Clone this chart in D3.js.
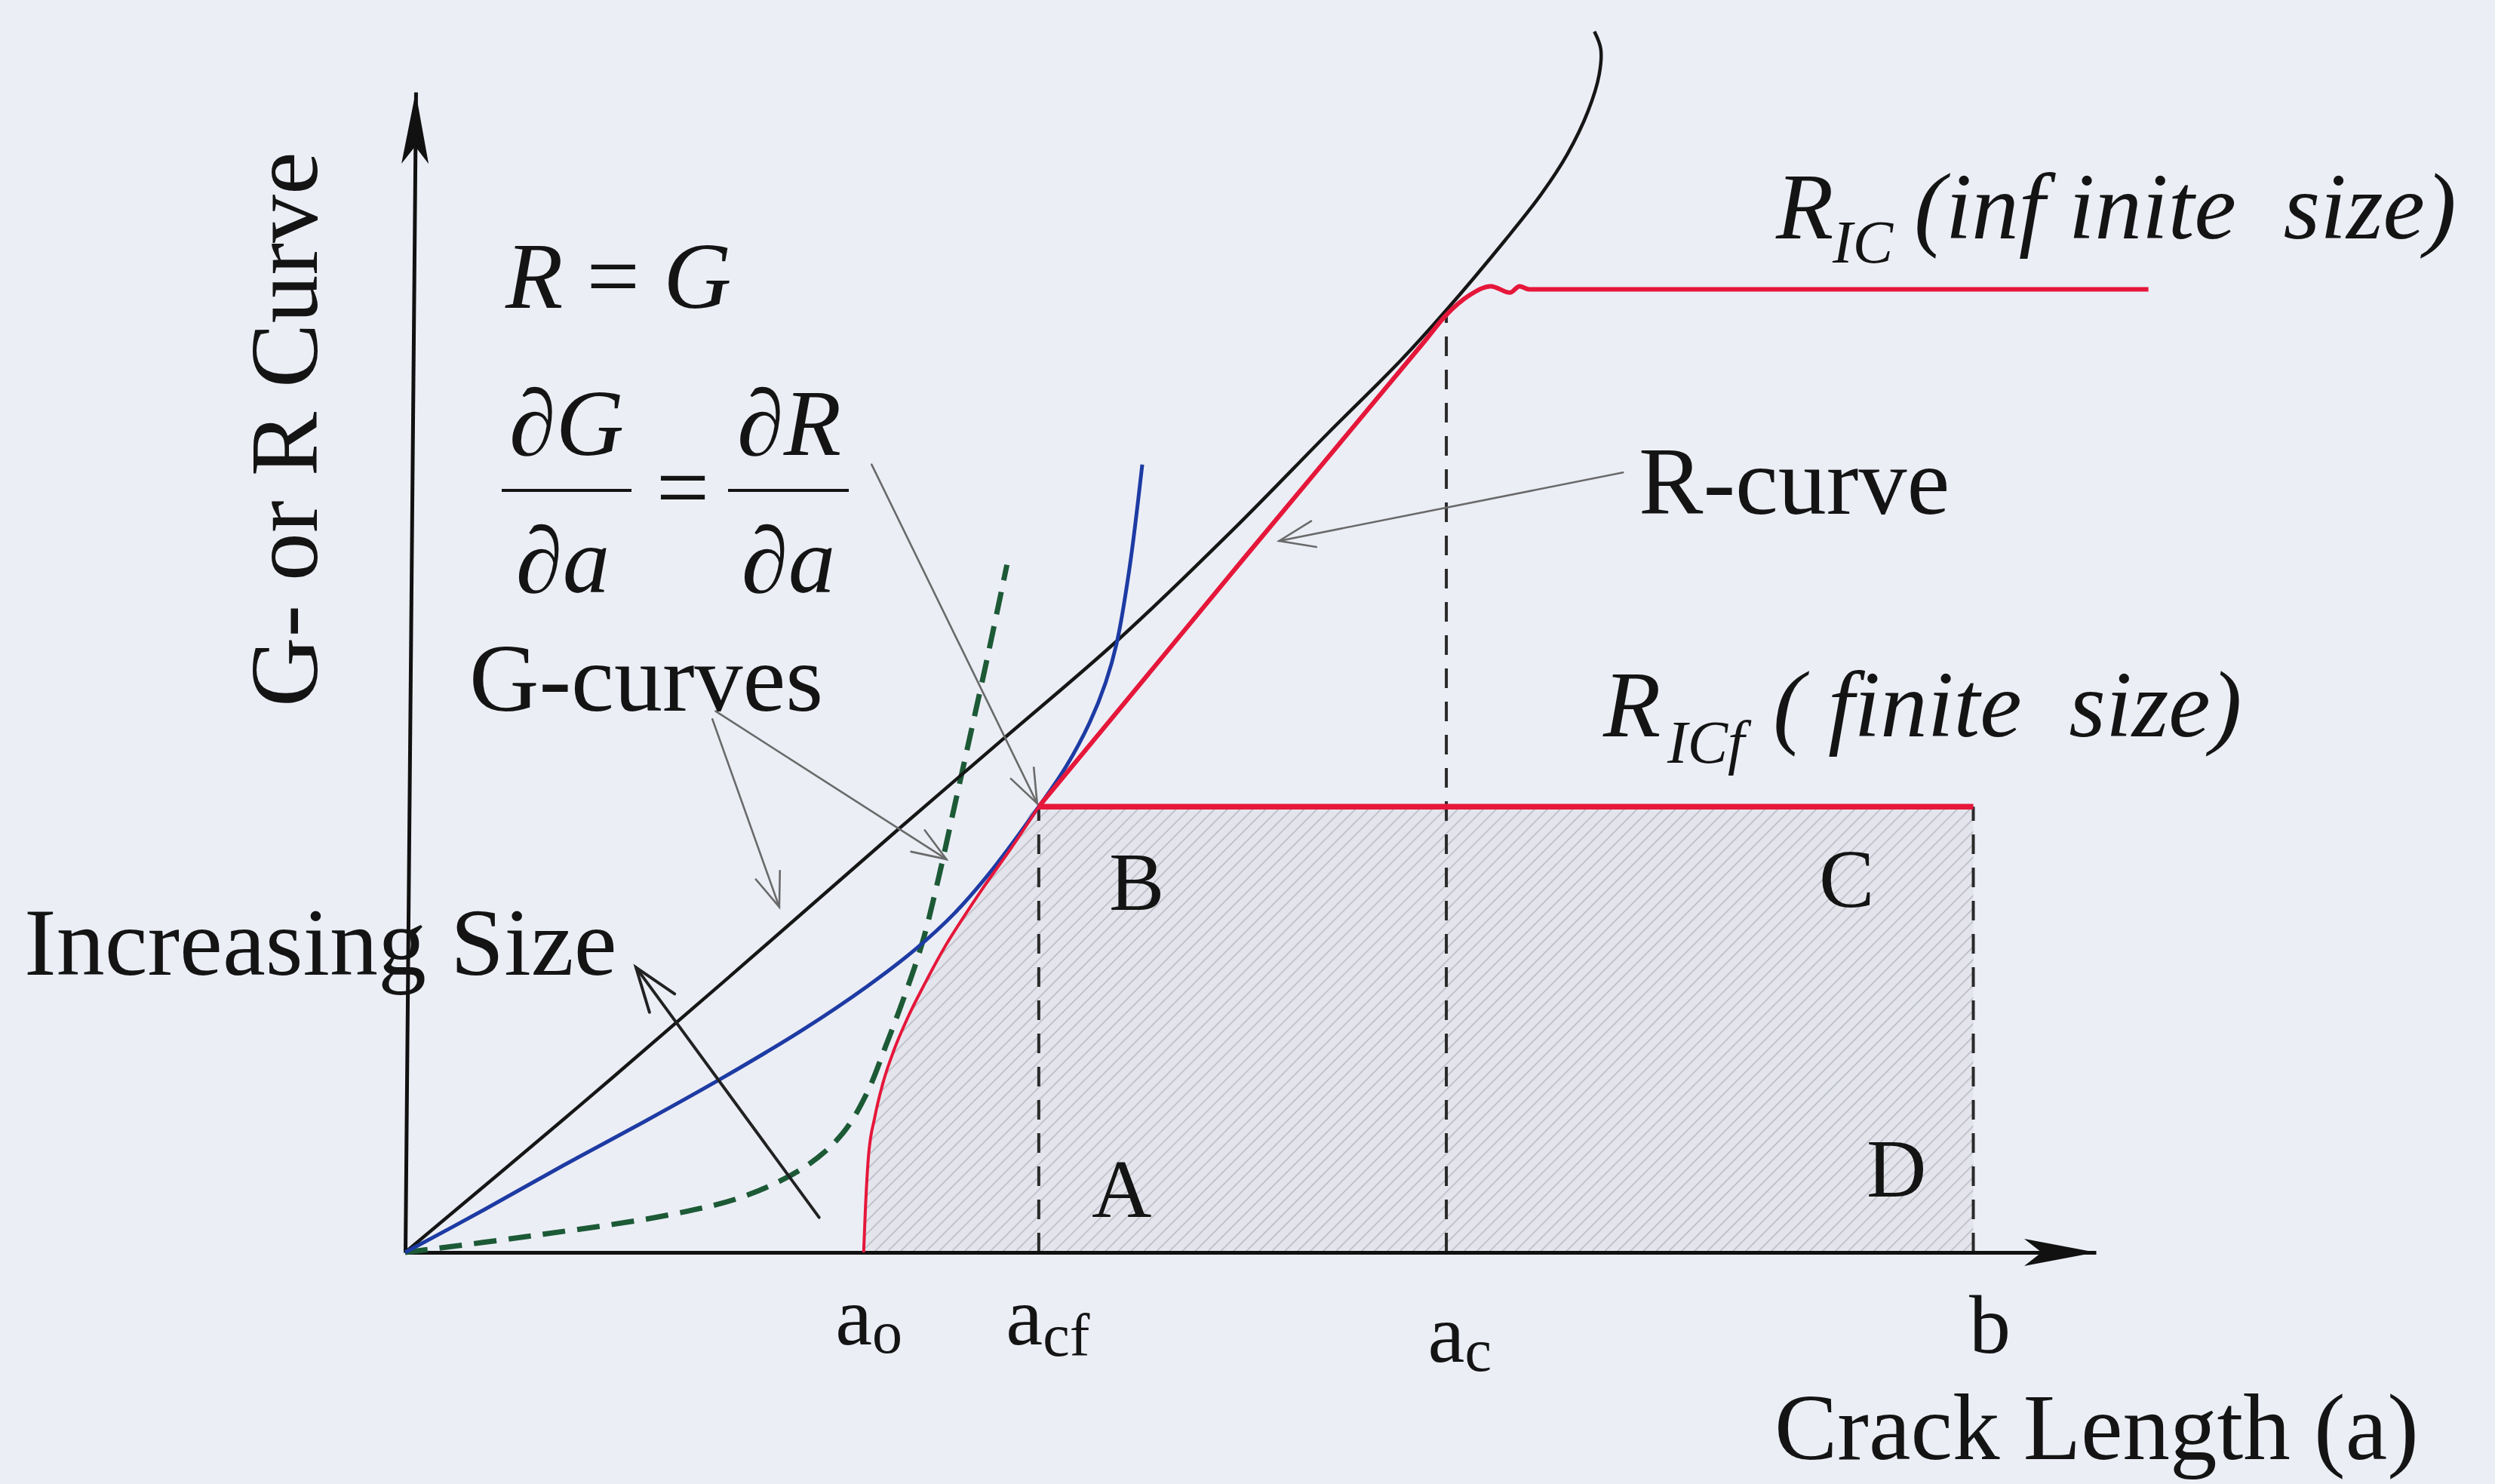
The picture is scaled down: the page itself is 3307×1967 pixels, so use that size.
<!DOCTYPE html>
<html>
<head>
<meta charset="utf-8">
<script src="https://cdn.jsdelivr.net/npm/d3@7"></script>
<style>
  html, body { margin: 0; padding: 0; background: #eceef6; }
  svg { display: block; }
  text { font-family: "Liberation Serif", "Times New Roman", serif; fill: #141414; white-space: pre; }
</style>
</head>
<body>
<svg id="chart" width="3307" height="1967"></svg>
<script>
// ---- crack-length marks on the horizontal axis ----
const tickValues = [288, 398, 654, 985];
const tickMain   = ["a", "a", "a", "b"];
const tickSub    = ["o", "cf", "c", ""];

// ---- resistance plateaus ----
const rICf = 280;   // finite-size plateau
const rIC  = 605;   // infinite-size plateau

// ---- G-curves (crack length, energy release rate) ----
const gLarge = [[0,0],[100,84],[200,170],[310,266],[375,322],[448,385],[520,454],[580,515],
                [625,560],[654,592],[691,636],[713,664],[730,690],[743,717],[750,740],[751,756],[747,767]];
const gMedium = [[0,0],[50,27],[100,55],[150,82],[200,110],[250,140],[290,167],[320,190],
                 [345,213],[370,242],[398,280],[415,305],[430,333],[440,358],[447,383],
                 [455,430],[463,495]];
const gSmall = [[0,0],[84,11],[168,24],[215,36],[253,55],[275,75],[290,100],[302,130],[314,162],
                [325,195],[335,235],[345,280],[355,325],[366,375],[378,432]];

// ---- R-curve: rising branch, then the straight branch up to the infinite-size plateau ----
const rRise = [[288,0],[289,25],[291,60],[295,85],[300,106],[307,127],[315,146],[327,170],
               [339,192],[351,211],[363,229],[380,253],[398,280]];
const rInfinite = [[398,280],[526,435],[640,572],[654,589],[668,601],[682,607],[694,603],
                   [700,607],[706,605],[1095,605]];
const rFinite = [[398,280],[985,280]];

// ---- dashed guides: tangency points and specimen edge ----
const guides = [[398,280],[654,592],[985,280]];

const W = 3307, H = 1967;
const svg = d3.select("#chart");
svg.append("rect").attr("width", W).attr("height", H).attr("fill", "#eceef6");

const x = d3.scaleLinear().domain([0, 1062]).range([537, 2778]);
const y = d3.scaleLinear().domain([0, 729]).range([1660, 122]);

// hatch pattern for the energy region
const defs = svg.append("defs");
const pat = defs.append("pattern")
  .attr("id", "hatch").attr("patternUnits", "userSpaceOnUse")
  .attr("width", 12).attr("height", 12)
  .attr("patternTransform", "rotate(45)");
pat.append("rect").attr("width", 12).attr("height", 12).attr("fill", "#e4e5ec");
pat.append("line").attr("x1", 0).attr("y1", 0).attr("x2", 0).attr("y2", 12)
  .attr("stroke", "#b6b8c3").attr("stroke-width", 3);

const area = d3.area()
  .x(d => x(d[0])).y0(y(0)).y1(d => y(d[1]))
  .curve(d3.curveMonotoneX);
svg.append("path")
  .datum(rRise.concat([[985, rICf]]))
  .attr("d", area)
  .attr("fill", "url(#hatch)");

// dashed guide lines
svg.append("g").selectAll("line").data(guides).join("line")
  .attr("x1", d => x(d[0])).attr("x2", d => x(d[0]))
  .attr("y1", y(0)).attr("y2", d => y(d[1]))
  .attr("stroke", "#2a2a2a").attr("stroke-width", 4)
  .attr("stroke-dasharray", "26,18");

// axes
const xAxis = d3.axisBottom(x).tickValues(tickValues).tickSize(0).tickSizeOuter(0).tickFormat("");
const gx = svg.append("g").attr("transform", `translate(0,${y(0)})`).call(xAxis);
gx.select(".domain").attr("stroke", "#111").attr("stroke-width", 5);
gx.selectAll(".tick text").remove();
const tickLayout = [[-38, 122, 11], [-44, 122, 15], [-25, 145, 12], [-6, 133, 0]];
gx.selectAll(".tick").each(function(d, i) {
  const t = d3.select(this).append("text")
    .attr("x", tickLayout[i][0]).attr("y", tickLayout[i][1])
    .attr("text-anchor", "start").attr("fill", "#141414")
    .style("font-size", "110px").style("font-family", "'Liberation Serif', serif");
  t.append("tspan").text(tickMain[i]);
  if (tickSub[i]) t.append("tspan").attr("dy", tickLayout[i][2]).style("font-size", "80px").text(tickSub[i]);
});
svg.append("path")
  .attr("transform", `translate(${x(1062)},${y(0)})`)
  .attr("d", "M0,0L-95,-18L-72,0L-95,18Z").attr("fill", "#111");

const gyWrap = svg.append("g").attr("transform", `rotate(0.52,${x(0)},${y(0)})`);
const yAxis = d3.axisLeft(y).tickValues([]).tickSizeOuter(0);
const gy = gyWrap.append("g").attr("transform", `translate(${x(0)},0)`).call(yAxis);
gy.select(".domain").attr("stroke", "#111").attr("stroke-width", 5);
gyWrap.append("path")
  .attr("transform", `translate(${x(0)},${y(729)})`)
  .attr("d", "M0,0L18,95L0,72L-18,95Z").attr("fill", "#111");

// curves
const line = d3.line().x(d => x(d[0])).y(d => y(d[1])).curve(d3.curveCatmullRom.alpha(0.5));
const lineM = d3.line().x(d => x(d[0])).y(d => y(d[1])).curve(d3.curveMonotoneX);

svg.append("path").datum(gSmall).attr("d", line)
  .attr("fill", "none").attr("stroke", "#1c5a36").attr("stroke-width", 7)
  .attr("stroke-dasharray", "30,16");
svg.append("path").datum(gLarge).attr("d", line)
  .attr("fill", "none").attr("stroke", "#161616").attr("stroke-width", 4.5);
svg.append("path").datum(gMedium).attr("d", line)
  .attr("fill", "none").attr("stroke", "#1d3ba3").attr("stroke-width", 5);
svg.append("path").datum(rRise).attr("d", lineM)
  .attr("fill", "none").attr("stroke", "#e5173a").attr("stroke-width", 4);
svg.append("path").datum(rInfinite).attr("d", lineM)
  .attr("fill", "none").attr("stroke", "#e5173a").attr("stroke-width", 6);
svg.append("path").datum(rFinite).attr("d", lineM)
  .attr("fill", "none").attr("stroke", "#e5173a").attr("stroke-width", 7.5);

// annotation arrows
function arrow(p0, p1, color, width, head, spread) {
  const x1 = x(p0[0]), y1 = y(p0[1]), x2 = x(p1[0]), y2 = y(p1[1]);
  const g = svg.append("g").attr("stroke", color).attr("stroke-width", width)
    .attr("fill", "none").attr("stroke-linecap", "round").attr("stroke-linejoin", "miter");
  g.append("line").attr("x1", x1).attr("y1", y1).attr("x2", x2).attr("y2", y2);
  const a = Math.atan2(y2 - y1, x2 - x1);
  const pa = [x2 - head * Math.cos(a - spread), y2 - head * Math.sin(a - spread)];
  const pb = [x2 - head * Math.cos(a + spread), y2 - head * Math.sin(a + spread)];
  g.append("path").attr("d", `M${pa[0]},${pa[1]}L${x2},${y2}L${pb[0]},${pb[1]}`);
}
arrow([293, 495], [397, 282], "#6a6a6a", 2.6, 48, 0.36);
arrow([765, 490], [549, 447], "#6a6a6a", 2.6, 50, 0.36);
arrow([193, 335], [235, 217], "#6a6a6a", 2.6, 48, 0.36);
arrow([195, 340], [340, 247], "#6a6a6a", 2.6, 48, 0.36);
arrow([260, 22], [145, 179], "#222", 4, 62, 0.34);

// text
const T = (px, py, str, size, opts = {}) => svg.append("text")
  .attr("x", px).attr("y", py).style("font-size", size + "px")
  .style("font-style", opts.italic ? "italic" : "normal")
  .attr("text-anchor", opts.anchor || "start").text(str);

svg.append("text").attr("transform", "translate(420,569) rotate(-90)")
  .attr("text-anchor", "middle").style("font-size", "128px").text("G- or R Curve");

const rg = svg.append("text").attr("x", 670).attr("y", 408).style("font-size", "125px");
rg.append("tspan").style("font-style", "italic").text("R");
rg.append("tspan").text(" = ");
rg.append("tspan").style("font-style", "italic").text("G");

T(751, 603, "\u2202G", 125, { italic: true, anchor: "middle" });
T(746, 785, "\u2202a", 125, { italic: true, anchor: "middle" });
T(905, 688, "=", 125, { anchor: "middle" });
T(1046, 603, "\u2202R", 125, { italic: true, anchor: "middle" });
T(1045, 785, "\u2202a", 125, { italic: true, anchor: "middle" });
svg.append("line").attr("x1", 665).attr("x2", 837).attr("y1", 650).attr("y2", 650)
  .attr("stroke", "#141414").attr("stroke-width", 4);
svg.append("line").attr("x1", 965).attr("x2", 1125).attr("y1", 650).attr("y2", 650)
  .attr("stroke", "#141414").attr("stroke-width", 4);

T(622, 942, "G-curves", 128);
T(32, 1292, "Increasing Size", 128);
T(2172, 681, "R-curve", 128);

const ric = svg.append("text").attr("x", 2354).attr("y", 316).style("font-size", "125px").style("font-style", "italic");
ric.append("tspan").text("R");
ric.append("tspan").attr("x", 2429).attr("dy", 32).style("font-size", "80px").text("IC");
ric.append("tspan").attr("x", 2537).attr("dy", -32).text("(inf inite  size)");

const ricf = svg.append("text").attr("x", 2125).attr("y", 976).style("font-size", "125px").style("font-style", "italic");
ricf.append("tspan").text("R");
ricf.append("tspan").attr("x", 2210).attr("dy", 35).style("font-size", "80px").text("ICf");
ricf.append("tspan").attr("x", 2350).attr("dy", -35).text("( finite  size)");

T(1447, 1613, "A", 110);
T(1470, 1206, "B", 110);
T(2411, 1202, "C", 110);
T(2474, 1586, "D", 110);

T(2352, 1934, "Crack Length (a)", 125);
</script>
</body>
</html>
